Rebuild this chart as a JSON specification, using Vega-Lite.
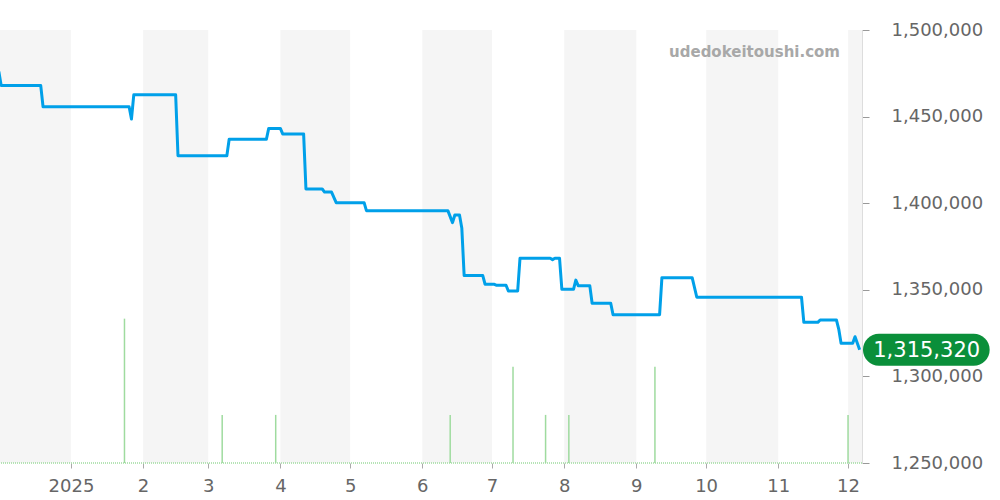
{
  "$schema": "https://vega.github.io/schema/vega-lite/v6.json",
  "width": 862,
  "height": 433,
  "autosize": {"type": "none"},
  "padding": {"left": 0, "top": 30, "right": 138, "bottom": 37},
  "background": "#ffffff",
  "config": {
    "font": "DejaVu Sans",
    "view": {"stroke": null},
    "scale": {"continuousPadding": 0}
  },
  "datasets": {
    "bands": [
      {"start": "2024-12-01", "end": "2025-01-01"},
      {"start": "2025-02-01", "end": "2025-03-01"},
      {"start": "2025-04-01", "end": "2025-05-01"},
      {"start": "2025-06-01", "end": "2025-07-01"},
      {"start": "2025-08-01", "end": "2025-09-01"},
      {"start": "2025-10-01", "end": "2025-11-01"},
      {"start": "2025-12-01", "end": "2026-01-01"}
    ],
    "volume": [
      {"date": "2025-01-24", "vol": 3},
      {"date": "2025-03-07", "vol": 1},
      {"date": "2025-03-30", "vol": 1},
      {"date": "2025-06-13", "vol": 1},
      {"date": "2025-07-10", "vol": 2},
      {"date": "2025-07-24", "vol": 1},
      {"date": "2025-08-03", "vol": 1},
      {"date": "2025-09-09", "vol": 2},
      {"date": "2025-12-01", "vol": 1}
    ],
    "prices": [
      {"date": "2024-12-01", "price": 1476000},
      {"date": "2024-12-02", "price": 1468000},
      {"date": "2024-12-19", "price": 1468000},
      {"date": "2024-12-20", "price": 1455700},
      {"date": "2025-01-26", "price": 1455700},
      {"date": "2025-01-27", "price": 1448600},
      {"date": "2025-01-28", "price": 1462600},
      {"date": "2025-02-15", "price": 1462600},
      {"date": "2025-02-16", "price": 1427400},
      {"date": "2025-03-09", "price": 1427400},
      {"date": "2025-03-10", "price": 1436900},
      {"date": "2025-03-26", "price": 1436900},
      {"date": "2025-03-27", "price": 1443200},
      {"date": "2025-04-01", "price": 1443200},
      {"date": "2025-04-02", "price": 1440000},
      {"date": "2025-04-11", "price": 1440000},
      {"date": "2025-04-12", "price": 1408200},
      {"date": "2025-04-19", "price": 1408200},
      {"date": "2025-04-20", "price": 1406400},
      {"date": "2025-04-23", "price": 1406400},
      {"date": "2025-04-25", "price": 1400300},
      {"date": "2025-05-07", "price": 1400300},
      {"date": "2025-05-08", "price": 1395700},
      {"date": "2025-06-12", "price": 1395700},
      {"date": "2025-06-14", "price": 1388800},
      {"date": "2025-06-15", "price": 1393200},
      {"date": "2025-06-17", "price": 1393200},
      {"date": "2025-06-18", "price": 1385500},
      {"date": "2025-06-19", "price": 1358200},
      {"date": "2025-06-27", "price": 1358200},
      {"date": "2025-06-28", "price": 1353200},
      {"date": "2025-07-02", "price": 1353200},
      {"date": "2025-07-03", "price": 1352600},
      {"date": "2025-07-07", "price": 1352600},
      {"date": "2025-07-08", "price": 1349300},
      {"date": "2025-07-12", "price": 1349300},
      {"date": "2025-07-13", "price": 1368200},
      {"date": "2025-07-26", "price": 1368200},
      {"date": "2025-07-27", "price": 1367400},
      {"date": "2025-07-28", "price": 1368200},
      {"date": "2025-07-30", "price": 1368200},
      {"date": "2025-07-31", "price": 1350300},
      {"date": "2025-08-05", "price": 1350300},
      {"date": "2025-08-06", "price": 1355600},
      {"date": "2025-08-07", "price": 1352400},
      {"date": "2025-08-12", "price": 1352400},
      {"date": "2025-08-13", "price": 1342200},
      {"date": "2025-08-21", "price": 1342200},
      {"date": "2025-08-22", "price": 1335600},
      {"date": "2025-09-11", "price": 1335600},
      {"date": "2025-09-12", "price": 1357000},
      {"date": "2025-09-25", "price": 1357000},
      {"date": "2025-09-27", "price": 1345700},
      {"date": "2025-11-11", "price": 1345700},
      {"date": "2025-11-12", "price": 1331200},
      {"date": "2025-11-18", "price": 1331200},
      {"date": "2025-11-19", "price": 1332600},
      {"date": "2025-11-26", "price": 1332600},
      {"date": "2025-11-27", "price": 1327300},
      {"date": "2025-11-28", "price": 1319100},
      {"date": "2025-12-03", "price": 1319100},
      {"date": "2025-12-04", "price": 1322900},
      {"date": "2025-12-06", "price": 1315320}
    ]
  },
  "resolve": {"scale": {"y": "independent"}},
  "layer": [
    {
      "data": {"name": "bands"},
      "mark": {"type": "rect", "fill": "#000000", "opacity": 0.04, "clip": true},
      "encoding": {
        "x": {
          "field": "start", "type": "temporal",
          "scale": {"type": "utc", "padding": 0, "domain": [{"year": 2024, "month": 12, "date": 1, "hours": 12, "utc": true}, {"year": 2025, "month": 12, "date": 7, "utc": true}]},
          "axis": {
            "orient": "bottom", "title": null, "grid": false, "domain": false,
            "tickCount": {"interval": "month", "step": 1},
            "labelExpr": "utcmonth(datum.value) == 0 ? utcFormat(datum.value, '%Y') : utcFormat(datum.value, '%-m')",
            "tickColor": "#aaaaaa", "tickSize": 5, "labelFontSize": 18, "labelColor": "#666666", "labelPadding": 9,
            "labelFlush": false, "labelOverlap": false
          }
        },
        "x2": {"field": "end"}
      }
    },
    {
      "data": {"values": [{}]},
      "mark": {"type": "rule", "color": "#9fdb9f", "strokeWidth": 1.5, "strokeDash": [1, 1]},
      "encoding": {
        "y": {"datum": 0, "type": "quantitative", "scale": {"domain": [0, 9]}, "axis": null}
      }
    },
    {
      "data": {"name": "volume"},
      "mark": {"type": "bar", "width": 1.5, "color": "#9fdb9f"},
      "encoding": {
        "x": {"field": "date", "type": "temporal"},
        "y": {"field": "vol", "type": "quantitative", "scale": {"domain": [0, 9]}, "axis": null}
      }
    },
    {
      "data": {"name": "prices"},
      "mark": {"type": "line", "color": "#00a0e9", "strokeWidth": 3, "strokeJoin": "round", "clip": true},
      "encoding": {
        "x": {"field": "date", "type": "temporal"},
        "y": {
          "field": "price", "type": "quantitative",
          "scale": {"domain": [1250000, 1500000], "nice": false, "zero": false},
          "axis": {
            "orient": "right", "title": null, "format": ",d",
            "values": [1250000, 1300000, 1350000, 1400000, 1450000, 1500000],
            "labelFontSize": 18, "labelColor": "#666666", "labelPadding": 22,
            "tickColor": "#999999", "tickSize": 7,
            "gridColor": "#e0e0e0", "domainColor": "#dddddd",
            "labelFlush": false, "labelOverlap": false
          }
        }
      }
    },
    {
      "data": {"values": [{}]},
      "mark": {"type": "text", "text": "udedokeitoushi.com", "align": "right", "baseline": "middle", "fontSize": 15, "fontWeight": "bold", "color": "#a8a8a8"},
      "encoding": {
        "x": {"datum": {"year": 2025, "month": 11, "date": 27, "hours": 13, "utc": true}, "type": "temporal"},
        "y": {"datum": 1487300, "type": "quantitative", "scale": {"domain": [1250000, 1500000], "nice": false, "zero": false}, "axis": null}
      }
    },
    {
      "data": {"name": "prices"},
      "transform": [
        {"window": [{"op": "rank", "as": "rk"}], "sort": [{"field": "date", "order": "descending"}]},
        {"filter": "datum.rk == 1"}
      ],
      "layer": [
        {
          "mark": {
            "type": "point", "filled": true, "fill": "#0a8f3a", "opacity": 1, "strokeWidth": 0, "size": 67600, "clip": false,
            "shape": "M0.1485,-0.1231 L0.8769,-0.1231 C0.9449,-0.1231 1,-0.068 1,0 C1,0.068 0.9449,0.1231 0.8769,0.1231 L0.1485,0.1231 C0.0805,0.1231 0.0254,0.068 0.0254,0 C0.0254,-0.068 0.0805,-0.1231 0.1485,-0.1231 Z"
          },
          "encoding": {
            "x": {"field": "date", "type": "temporal"},
            "y": {"field": "price", "type": "quantitative", "scale": {"domain": [1250000, 1500000], "nice": false, "zero": false}, "axis": null}
          }
        },
        {
          "mark": {"type": "text", "align": "center", "baseline": "middle", "dx": 67, "dy": 1, "fontSize": 21, "color": "#ffffff", "clip": false},
          "encoding": {
            "x": {"field": "date", "type": "temporal"},
            "y": {"field": "price", "type": "quantitative", "scale": {"domain": [1250000, 1500000], "nice": false, "zero": false}, "axis": null},
            "text": {"field": "price", "type": "quantitative", "format": ",d"}
          }
        }
      ]
    }
  ]
}
